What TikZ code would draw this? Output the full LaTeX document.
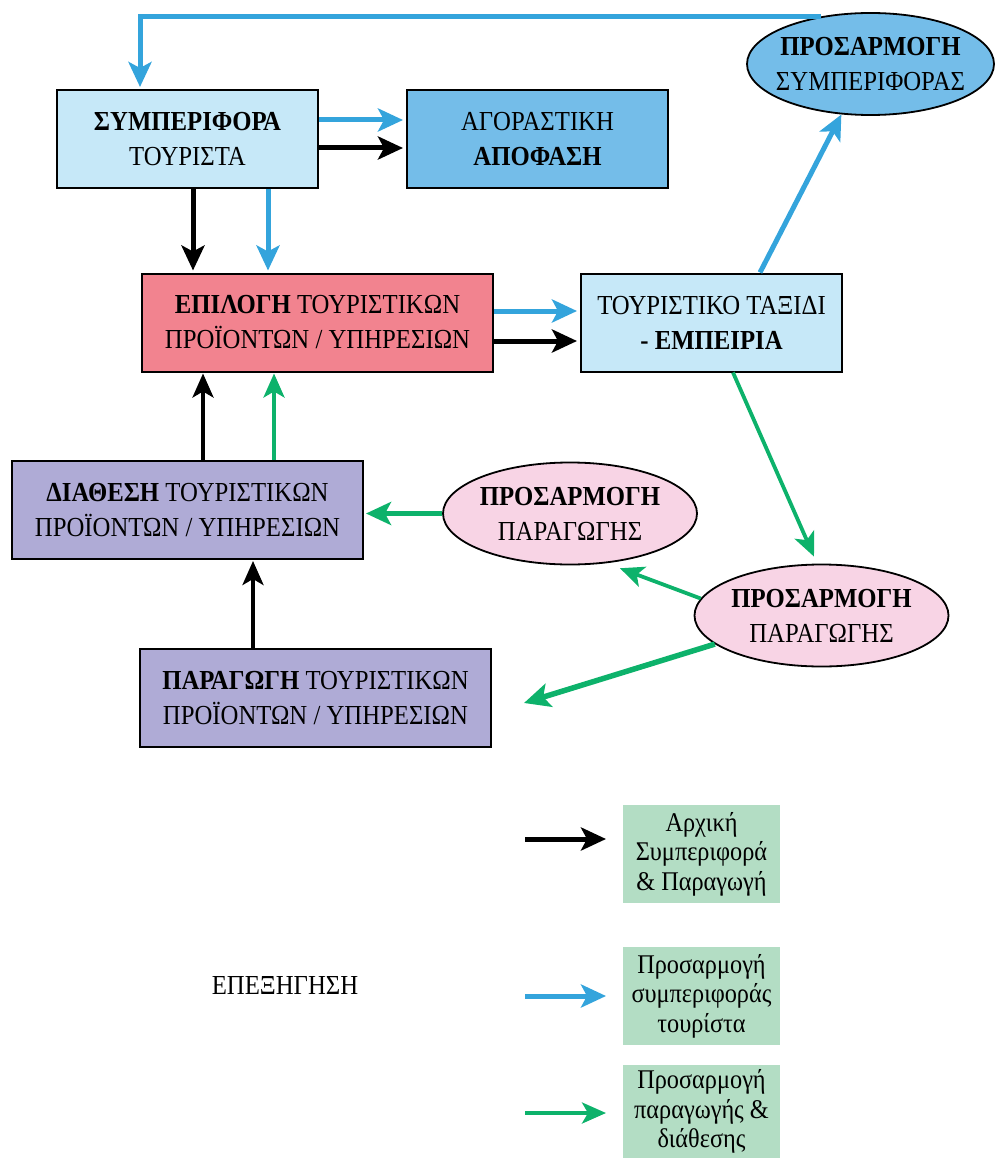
\documentclass[tikz,border=0pt]{standalone}
\usepackage{fontspec}
\setmainfont[FakeStretch=0.9]{Liberation Serif}
\usetikzlibrary{arrows.meta,shapes.geometric,calc}
\definecolor{lblue}{HTML}{C6E8F8}
\definecolor{mblue}{HTML}{74BDE9}
\definecolor{rose}{HTML}{F2838F}
\definecolor{lav}{HTML}{AFABD6}
\definecolor{lpink}{HTML}{F8D4E5}
\definecolor{lgreen}{HTML}{B3DDC4}
\definecolor{ablue}{HTML}{34A4DC}
\definecolor{agreen}{HTML}{0DB26B}
\begin{document}
\begin{tikzpicture}[x=1pt,y=-1pt,
  box/.style={draw=black, line width=2pt, minimum width=261pt, minimum height=98pt, align=center, inner sep=0pt, font=\fontsize{27.5}{35}\selectfont},
  wbox/.style={box, minimum width=351pt},
  ellbox/.style={ellipse, draw=black, line width=1.8pt, minimum width=254pt, minimum height=102pt, inner sep=0pt},
  etext/.style={align=center, inner sep=0pt, font=\fontsize{27.5}{35}\selectfont},
  legbox/.style={fill=lgreen, minimum width=157pt, minimum height=98pt, align=center, inner sep=0pt, font=\fontsize{27}{29.5}\selectfont},
  arr/.style={line width=5pt, -{Stealth[length=25pt,width=23pt,inset=6pt]}},
  tarr/.style={line width=3.8pt, -{Stealth[length=24pt,width=21pt,inset=6pt]}}
]
\useasboundingbox (0,0) rectangle (994,1158);

% nodes
\node[box, fill=lblue] (sym) at (187.5,139) {\textbf{ΣΥΜΠΕΡΙΦΟΡΑ}\\ΤΟΥΡΙΣΤΑ};
\node[box, fill=mblue] (ago) at (537.5,139) {ΑΓΟΡΑΣΤΙΚΗ\\\textbf{ΑΠΟΦΑΣΗ}};
\node[wbox, fill=rose] (epi) at (317.5,322.5) {\textbf{ΕΠΙΛΟΓΗ} ΤΟΥΡΙΣΤΙΚΩΝ\\ΠΡΟΪΟΝΤΩΝ / ΥΠΗΡΕΣΙΩΝ};
\node[box, fill=lblue] (tax) at (711.5,322.5) {ΤΟΥΡΙΣΤΙΚΟ ΤΑΞΙΔΙ\\\textbf{- ΕΜΠΕΙΡΙΑ}};
\node[ellbox, fill=mblue, minimum width=247pt] (esym) at (870.5,64) {};
\node[etext] (esymt) at (esym.center) {\textbf{ΠΡΟΣΑΡΜΟΓΗ}\\ΣΥΜΠΕΡΙΦΟΡΑΣ};
\node[wbox, fill=lav] (dia) at (187.5,510) {\textbf{ΔΙΑΘΕΣΗ} ΤΟΥΡΙΣΤΙΚΩΝ\\ΠΡΟΪΟΝΤΩΝ / ΥΠΗΡΕΣΙΩΝ};
\node[ellbox, fill=lpink] (ep1) at (570,513.5) {};
\node[etext] (ep1t) at (ep1.center) {\textbf{ΠΡΟΣΑΡΜΟΓΗ}\\ΠΑΡΑΓΩΓΗΣ};
\node[ellbox, fill=lpink] (ep2) at (821.5,615.5) {};
\node[etext] (ep2t) at (ep2.center) {\textbf{ΠΡΟΣΑΡΜΟΓΗ}\\ΠΑΡΑΓΩΓΗΣ};
\node[wbox, fill=lav] (par) at (315.5,698) {\textbf{ΠΑΡΑΓΩΓΗ} ΤΟΥΡΙΣΤΙΚΩΝ\\ΠΡΟΪΟΝΤΩΝ / ΥΠΗΡΕΣΙΩΝ};

% legend
\node[legbox] (lg1) at (701.5,854) {Αρχική\\Συμπεριφορά\\\& Παραγωγή};
\node[legbox] (lg2) at (701.5,996) {Προσαρμογή\\συμπεριφοράς\\τουρίστα};
\node[legbox, minimum height=93pt] (lg3) at (701.5,1111.5) {Προσαρμογή\\παραγωγής \&\\διάθεσης};
\node[font=\fontsize{27.5}{30}\selectfont, inner sep=0pt] (expl) at (285,985) {ΕΠΕΞΗΓΗΣΗ};
\coordinate (l1s) at (525,839);
\coordinate (l1e) at (606,839);
\coordinate (l2s) at (525,996);
\coordinate (l2e) at (606,996);
\coordinate (l3s) at (525,1113);
\coordinate (l3e) at (606,1113);
\draw[arr, black] (l1s) -- (l1e);
\draw[arr, ablue] (l2s) -- (l2e);
\draw[tarr, agreen] (l3s) -- (l3e);

% connectors
\draw[arr, ablue] (esym.136) -| ([xshift=-47.5pt,yshift=2pt]sym.north);
\draw[arr, ablue] ([yshift=19pt]sym.east) -- ([xshift=-3pt,yshift=19pt]ago.west);
\draw[arr, black] ([yshift=-9pt]sym.east) -- ([xshift=-3pt,yshift=-9pt]ago.west);
\draw[arr, black] ([xshift=5.5pt]sym.south) -- ([xshift=-124.5pt,yshift=2pt]epi.north);
\draw[arr, ablue] ([xshift=80.5pt]sym.south) -- ([xshift=-49.5pt,yshift=2pt]epi.north);
\draw[arr, ablue] ([yshift=11.5pt]epi.east) -- ([xshift=-3pt,yshift=11.5pt]tax.west);
\draw[arr, black] ([yshift=-18.5pt]epi.east) -- ([xshift=-3pt,yshift=-18.5pt]tax.west);
\draw[arr, ablue] ([xshift=48.5pt]tax.north) -- (esym.240);
\draw[tarr, agreen] ([xshift=21.5pt]tax.south) -- ([xshift=-7.5pt,yshift=7pt]ep2.north);
\draw[arr, agreen] (ep1.west) -- ([xshift=2pt]ep1.west -| dia.east);
\draw[tarr, agreen] (ep2.172) -- ([xshift=6pt,yshift=-6pt]ep1.312);
\draw[line width=5.5pt, agreen, -{Stealth[length=26pt,width=24pt,inset=6pt]}] (ep2.195) -- ([xshift=32pt,yshift=-5pt]par.east);
\draw[tarr, black] ([xshift=-62.5pt]par.north) -- ([xshift=65.5pt,yshift=-1pt]dia.south);
\draw[tarr, black] ([xshift=15.5pt]dia.north) -- ([xshift=-114.5pt,yshift=-1pt]epi.south);
\draw[tarr, agreen] ([xshift=86.5pt]dia.north) -- ([xshift=-43.5pt,yshift=-1pt]epi.south);
\end{tikzpicture}
\end{document}
